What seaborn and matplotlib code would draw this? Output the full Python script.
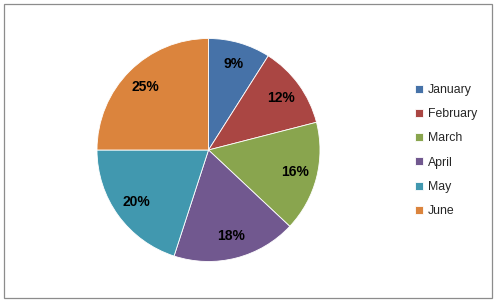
import matplotlib
matplotlib.use("Agg")
import matplotlib.pyplot as plt
import seaborn as sns
from matplotlib.patches import Rectangle

months = ["January", "February", "March", "April", "May", "June"]
shares = [9, 12, 16, 18, 20, 25]
colors = ["#4672A8", "#AA4643", "#89A54E", "#71588F", "#4198AF", "#DB843D"]

sns.set_theme(style="white")
palette = sns.color_palette(colors)

fig = plt.figure(figsize=(4.96, 3.04), dpi=100)
fig.patch.set_facecolor("white")
fig.add_artist(Rectangle((3.5 / 496, 1 - 297.5 / 304), 488.5 / 496, 294 / 304,
                         transform=fig.transFigure, fill=False,
                         edgecolor="#8c8c8c", linewidth=0.9))

r = 111.5
cx, cy = 208.5, 150
ax = fig.add_axes([(cx - r) / 496, 1 - (cy + r) / 304, 2 * r / 496, 2 * r / 304])
wedges, texts, autotexts = ax.pie(
    shares, colors=palette, startangle=90, counterclock=False,
    autopct=lambda p: f"{p:.0f}%", pctdistance=0.8,
    wedgeprops=dict(linewidth=0.6, edgecolor="white"),
    textprops=dict(fontsize=10, fontweight="bold", color="black",
                   family=["Liberation Sans", "DejaVu Sans"]))
ax.set_aspect("equal")
ax.set_xlim(-1, 1)
ax.set_ylim(-1, 1)
ax.axis("off")

leg = fig.legend(wedges, months, loc="upper left",
                 bbox_to_anchor=(404 / 496, 1 - 73 / 304),
                 frameon=False, handlelength=0.65, handleheight=0.65,
                 handletextpad=0.4, labelspacing=1.0,
                 prop=dict(family=["Liberation Sans", "DejaVu Sans"], size=8.8))

fig.savefig("out.png", dpi=100)
